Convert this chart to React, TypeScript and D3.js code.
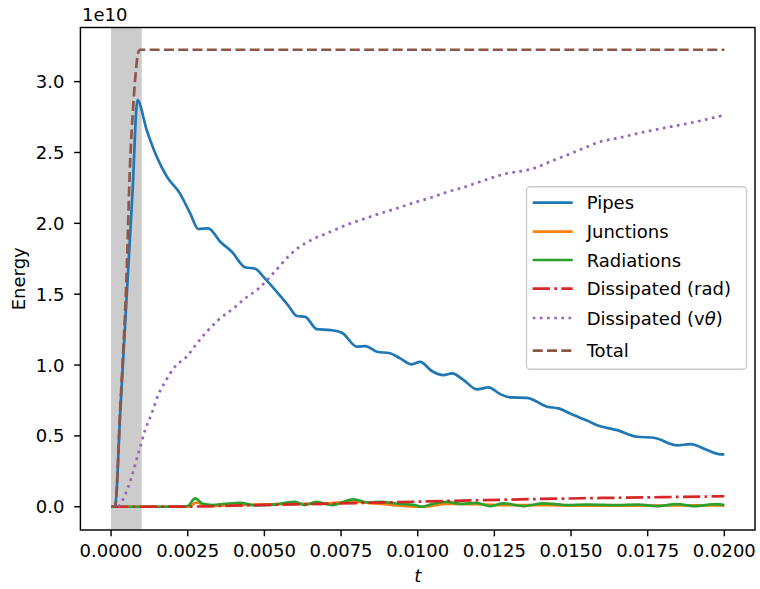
import React from "react";
import * as d3 from "d3";

const xTicks = [0, 0.0025, 0.005, 0.0075, 0.01, 0.0125, 0.015, 0.0175, 0.02];
const yTicks = [0, 0.5, 1.0, 1.5, 2.0, 2.5, 3.0];

const pipesT = [0, 0.00013, 0.0003, 0.0005, 0.0007, 0.00086, 0.00116, 0.00149, 0.00182, 0.00225, 0.00258, 0.00285, 0.00317, 0.00356, 0.00394, 0.00437, 0.0047, 0.00502, 0.00551, 0.00578, 0.00606, 0.00633, 0.00671, 0.00715, 0.00753, 0.00802, 0.00829, 0.00867, 0.0091, 0.00943, 0.00981, 0.01008, 0.01046, 0.01084, 0.01112, 0.0115, 0.01193, 0.01231, 0.01269, 0.01302, 0.01356, 0.01422, 0.01459, 0.01508, 0.0155, 0.0159, 0.0165, 0.01715, 0.0177, 0.01846, 0.01889, 0.01944, 0.01987, 0.02];
const pipesV = [0, 0, 0.67, 1.45, 2.22, 2.87, 2.66, 2.47, 2.33, 2.21, 2.07, 1.96, 1.965, 1.87, 1.80, 1.69, 1.68, 1.61, 1.49, 1.42, 1.346, 1.34, 1.254, 1.247, 1.228, 1.13, 1.134, 1.094, 1.083, 1.047, 1.005, 1.023, 0.958, 0.929, 0.941, 0.894, 0.828, 0.843, 0.795, 0.772, 0.769, 0.706, 0.694, 0.647, 0.61, 0.572, 0.541, 0.494, 0.487, 0.433, 0.442, 0.40, 0.37, 0.37];

const juncT = [0, 0.0025, 0.0028, 0.0031, 0.0042, 0.006, 0.0067, 0.0079, 0.0088, 0.0101, 0.011, 0.0119, 0.0128, 0.0141, 0.0155, 0.017, 0.0185, 0.0198, 0.02];
const juncV = [0, 0, 0.03, 0.005, 0.012, 0.02, 0.02, 0.035, 0.02, 0.0, 0.02, 0.018, 0.012, 0.012, 0.008, 0.008, 0.01, 0.01, 0.008];

const radT = [0, 0.0022, 0.0025, 0.00274, 0.003, 0.0033, 0.0037, 0.0042, 0.0047, 0.0053, 0.006, 0.0063, 0.0067, 0.0072, 0.0079, 0.0084, 0.0088, 0.0094, 0.0099, 0.0101, 0.0105, 0.01095, 0.0114, 0.0119, 0.01237, 0.0128, 0.01345, 0.0141, 0.01487, 0.0155, 0.0165, 0.0172, 0.0178, 0.01846, 0.019, 0.01976, 0.02];
const radV = [0, 0, 0.005, 0.059, 0.02, 0.012, 0.02, 0.028, 0.01, 0.015, 0.035, 0.012, 0.035, 0.012, 0.052, 0.03, 0.035, 0.02, 0.012, 0.0, 0.02, 0.035, 0.02, 0.028, 0.005, 0.024, 0.005, 0.024, 0.012, 0.015, 0.012, 0.015, 0.005, 0.019, 0.005, 0.019, 0.012];

const dissRadT = [0, 0.0025, 0.004, 0.006, 0.008, 0.01, 0.012, 0.014, 0.016, 0.018, 0.02];
const dissRadV = [0, 0.001, 0.008, 0.017, 0.026, 0.036, 0.046, 0.055, 0.062, 0.068, 0.074];

const dissVT = [0, 0.00019, 0.00056, 0.00089, 0.00111, 0.00133, 0.00154, 0.00176, 0.00209, 0.00247, 0.0028, 0.00312, 0.0035, 0.00399, 0.00437, 0.00481, 0.0053, 0.0058, 0.00606, 0.0066, 0.00715, 0.00769, 0.00823, 0.00878, 0.00932, 0.00986, 0.01041, 0.01095, 0.0115, 0.01204, 0.0128, 0.01378, 0.01432, 0.01487, 0.01541, 0.01595, 0.0165, 0.01704, 0.01759, 0.01813, 0.01867, 0.01922, 0.02];
const dissVV = [0, 0, 0.14, 0.377, 0.54, 0.66, 0.79, 0.88, 0.99, 1.06, 1.153, 1.235, 1.318, 1.40, 1.47, 1.54, 1.65, 1.77, 1.82, 1.89, 1.94, 1.99, 2.03, 2.07, 2.106, 2.145, 2.18, 2.22, 2.254, 2.294, 2.346, 2.388, 2.435, 2.482, 2.53, 2.576, 2.6, 2.628, 2.654, 2.677, 2.699, 2.724, 2.765];

const totalT = [0, 0.00013, 0.0003, 0.0005, 0.00062, 0.00073, 0.00082, 0.0009, 0.00095, 0.02];
const totalV = [0, 0, 0.7, 1.6, 2.42, 2.85, 3.1, 3.215, 3.225, 3.225];

const spanRange = [0, 0.001];

const labels = ["Pipes", "Junctions", "Radiations", "Dissipated (rad)", "Dissipated (vθ)", "Total"];
const colors = ["#1f77b4", "#ff7f0e", "#2ca02c", "#d62728", "#9467bd", "#8c564b"];
const dashes = ["", "", "", "17.3,4.3,2.7,4.3", "2.7,4.46", "10,4.3"];

const W = 760, H = 589;
const L = 80.4, R = 755, T = 27.5, B = 530;
const FONT = "DejaVu Sans, sans-serif";

export default function App() {
  const x = d3.scaleLinear().domain([-0.001, 0.021]).range([L, R]);
  const y = d3.scaleLinear().domain([-0.164, 3.382]).range([B, T]);
  const line = d3
    .line<[number, number]>()
    .x((d) => x(d[0]))
    .y((d) => y(d[1]))
    .curve(d3.curveMonotoneX);

  const series: [number[], number[]][] = [
    [pipesT, pipesV],
    [juncT, juncV],
    [radT, radV],
    [dissRadT, dissRadV],
    [dissVT, dissVV],
    [totalT, totalV],
  ];

  const legendRows = [202.7, 231.7, 260, 288.7, 318, 350.7];

  return (
    <svg width={W} height={H} style={{ position: "absolute", left: 0, top: 0, background: "#fff" }} fontFamily={FONT}>
      <defs>
        <clipPath id="plot">
          <rect x={L} y={T} width={R - L} height={B - T} />
        </clipPath>
      </defs>
      <rect x={x(spanRange[0])} y={T} width={x(spanRange[1]) - x(spanRange[0])} height={B - T} fill="#cccccc" />
      <g clipPath="url(#plot)">
        {series.map(([ts, vs], i) => (
          <path
            key={i}
            d={line(ts.map((t, j) => [t, vs[j]] as [number, number])) || ""}
            fill="none"
            stroke={colors[i]}
            strokeWidth={2.7}
            strokeDasharray={dashes[i] || undefined}
            strokeLinejoin="round"
          />
        ))}
      </g>
      <rect x={L} y={T} width={R - L} height={B - T} fill="none" stroke="#000" strokeWidth={1.44} />
      {xTicks.map((t) => (
        <g key={t}>
          <line x1={x(t)} x2={x(t)} y1={B} y2={B + 6.3} stroke="#000" strokeWidth={1.44} />
          <text x={x(t)} y={556.5} textAnchor="middle" fontSize={18} fill="#000">
            {t.toFixed(4)}
          </text>
        </g>
      ))}
      {yTicks.map((v) => (
        <g key={v}>
          <line x1={L - 6.3} x2={L} y1={y(v)} y2={y(v)} stroke="#000" strokeWidth={1.44} />
          <text x={64.5} y={y(v)} textAnchor="end" dominantBaseline="central" fontSize={18} fill="#000">
            {v.toFixed(1)}
          </text>
        </g>
      ))}
      <text x={82} y={21} fontSize={18} fill="#000">1e10</text>
      <text transform={`translate(25,${(T + B) / 2}) rotate(-90)`} textAnchor="middle" fontSize={18} fill="#000">
        Energy
      </text>
      <text x={(L + R) / 2} y={582} textAnchor="middle" fontSize={18} fontStyle="italic" fill="#000">
        t
      </text>
      <g>
        <rect x={526.5} y={186.7} width={220} height={182.6} rx={3.6} fill="#fff" fillOpacity={0.8} stroke="#cccccc" strokeWidth={1.44} />
        {labels.map((lab, i) => (
          <g key={lab}>
            <line
              x1={532.7}
              x2={572.7}
              y1={legendRows[i]}
              y2={legendRows[i]}
              stroke={colors[i]}
              strokeWidth={2.7}
              strokeDasharray={dashes[i] || undefined}
            />
            <text x={586.7} y={legendRows[i]} dominantBaseline="central" fontSize={18} fill="#000">
              {i === 4 ? (
                <>
                  Dissipated (v<tspan fontStyle="italic">θ</tspan>)
                </>
              ) : (
                lab
              )}
            </text>
          </g>
        ))}
      </g>
    </svg>
  );
}
